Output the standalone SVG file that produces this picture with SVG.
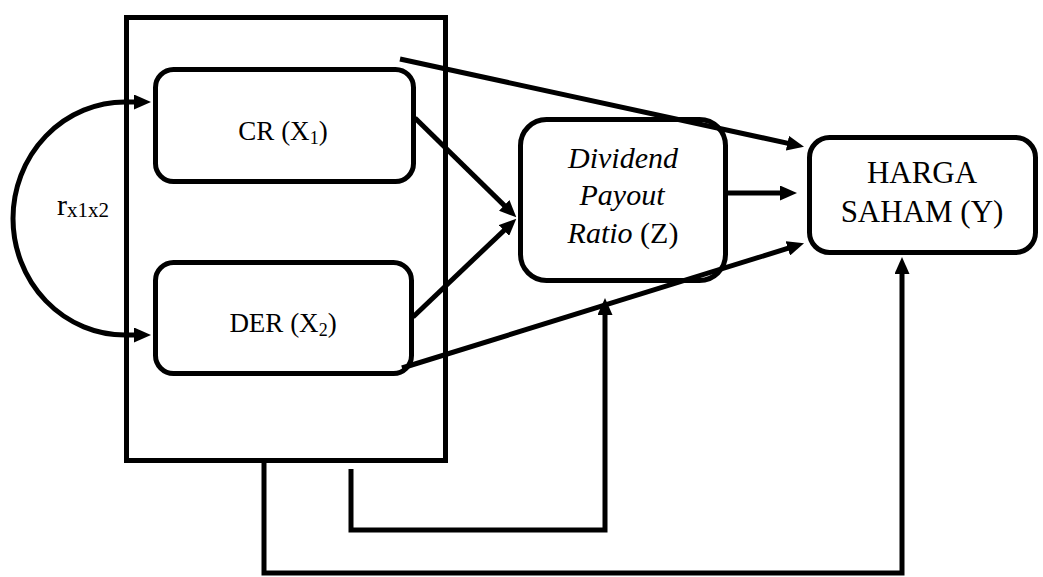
<svg xmlns="http://www.w3.org/2000/svg" width="1043" height="577" viewBox="0 0 1043 577">
  <defs>
    <marker id="arrow" viewBox="0 0 17 15" refX="9" refY="7.5" markerWidth="17" markerHeight="15" markerUnits="userSpaceOnUse" orient="auto">
      <path d="M0,0 L17,7.5 L0,15 z" fill="#000"/>
    </marker>
    <style>
      .box { fill: #fff; stroke: #000; stroke-width: 5; }
      .frame { fill: none; stroke: #000; stroke-width: 5; }
      .link { fill: none; stroke: #000; stroke-width: 5; marker-end: url(#arrow); }
      .txt { font-family: "Liberation Serif", "Times New Roman", serif; fill: #000; text-anchor: middle; }
      .it { font-style: italic; }
    </style>
  </defs>

  <rect width="1043" height="577" fill="#fff"/>

  <!-- independent variables frame -->
  <g id="frame-x">
    <rect class="frame" x="126.5" y="17.5" width="319" height="443"/>
  </g>

  <g id="node-cr">
    <rect class="box" x="155.5" y="69.5" width="258" height="112" rx="18"/>
    <text class="txt" x="283" y="140" font-size="27">CR (X<tspan font-size="18" dy="4">1</tspan><tspan dy="-4">)</tspan></text>
  </g>

  <g id="node-der">
    <rect class="box" x="155.5" y="262.5" width="256" height="111" rx="18"/>
    <text class="txt" x="283" y="332" font-size="27">DER (X<tspan font-size="18" dy="4">2</tspan><tspan dy="-4">)</tspan></text>
  </g>

  <g id="node-dpr">
    <rect class="box" x="520.5" y="119.5" width="205" height="161" rx="26"/>
    <text class="txt it" x="623" y="168" font-size="30">Dividend</text>
    <text class="txt it" x="622" y="205" font-size="30">Payout</text>
    <text class="txt" x="623" y="243" font-size="30"><tspan class="it">Ratio</tspan> (Z)</text>
  </g>

  <g id="node-harga">
    <rect class="box" x="809.5" y="137.5" width="226" height="115" rx="20"/>
    <text class="txt" x="922" y="183" font-size="31">HARGA</text>
    <text class="txt" x="922" y="222" font-size="31">SAHAM (Y)</text>
  </g>

  <g id="label-r">
    <text x="57" y="215" font-family="Liberation Serif, 'Times New Roman', serif" font-size="30">r<tspan font-size="21" dy="2">x1x2</tspan></text>
  </g>

  <g id="connectors">
    <!-- correlation arc between X1 and X2 -->
    <path class="link" d="M125,102 A112,116.5 0 0 0 125,335 L143,335"/>
    <path class="link" d="M125,102 L143,102"/>
    <!-- X1 / X2 to Z -->
    <path class="link" d="M415,118 L510.6,211.7"/>
    <path class="link" d="M413,317 L510.5,224.2"/>
    <!-- X1 / X2 to Y -->
    <path class="link" d="M400,59 L796.2,145.1"/>
    <path class="link" d="M402,368 L796.4,245.7"/>
    <!-- Z to Y -->
    <path class="link" d="M728,193 L789,193"/>
    <!-- frame to Z -->
    <path class="link" d="M351,469 V530 H605 V306"/>
    <!-- frame to Y -->
    <path class="link" d="M264,461 V573 H902 V265"/>
  </g>
</svg>
